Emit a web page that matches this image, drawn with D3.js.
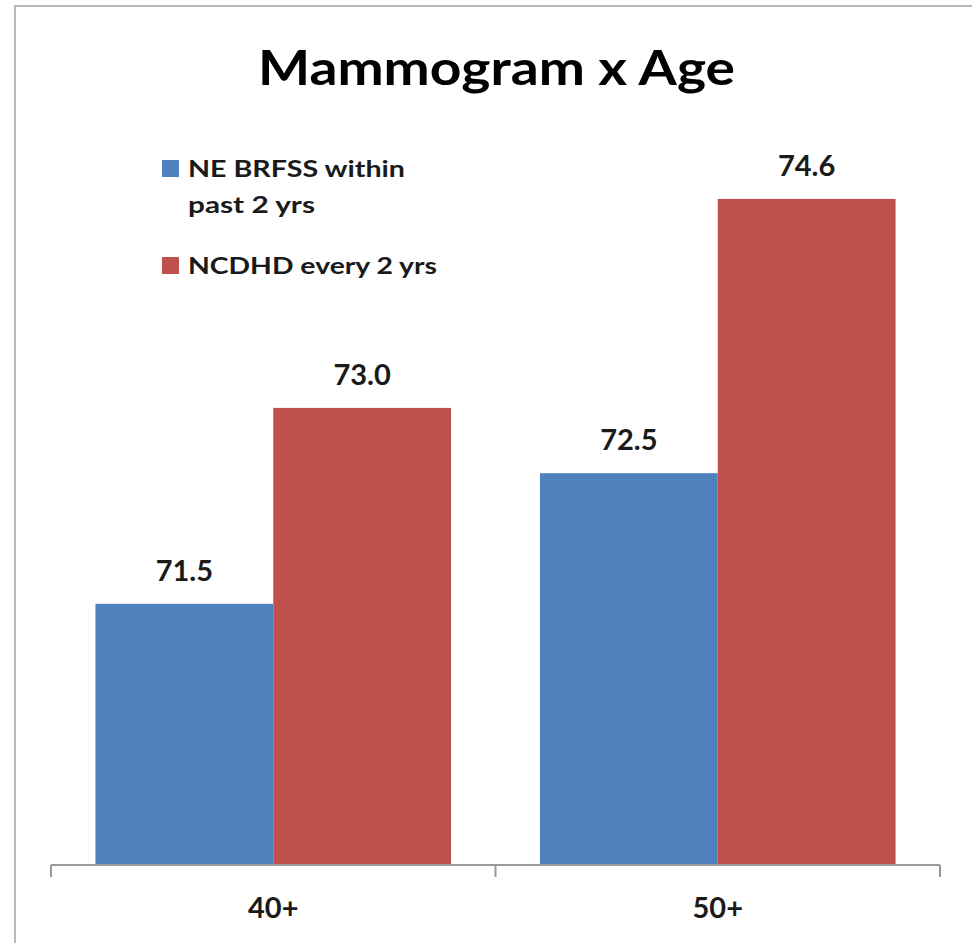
<!DOCTYPE html>
<html>
<head>
<meta charset="utf-8">
<script src="https://cdn.jsdelivr.net/npm/d3@7"></script>
<style>
  body { margin: 0; background: #fff; }
  svg { display: block; }
</style>
</head>
<body>
<div id="myChart"></div>
<script>
// data
var ageGroups = ["40+", "50+"];
var seriesNames = ["NE BRFSS within past 2 yrs", "NCDHD every 2 yrs"];
var brfssValues = [71.5, 72.5];
var ncdhdValues = [73.0, 74.6];
var legendLines = [["NE BRFSS within", "past 2 yrs"], ["NCDHD every 2 yrs"]];
var colors = ["#4F81BD", "#C0504D"];

var w = 972, h = 943;
var baseY = 865;
var fontFam = "Lato, 'Open Sans', sans-serif";

var svg = d3.select("#myChart").append("svg")
  .attr("width", w)
  .attr("height", h);

// chart border
svg.append("rect")
  .attr("x", 15).attr("y", 6)
  .attr("width", w).attr("height", h)
  .attr("fill", "none")
  .attr("stroke", "#b8b8b8")
  .attr("stroke-width", 2);

// title
svg.append("text")
  .attr("x", 258).attr("y", 85)
  .attr("textLength", 477)
  .attr("lengthAdjust", "spacingAndGlyphs")
  .attr("font-family", fontFam)
  .attr("font-weight", "bold")
  .attr("font-size", "47px")
  .attr("fill", "#000")
  .text("Mammogram x Age");

// scales
var x0 = d3.scaleBand()
  .domain(ageGroups)
  .range([51, 940])
  .padding(0);

var x1 = d3.scaleBand()
  .domain(seriesNames)
  .range([x0.bandwidth() * 0.1, x0.bandwidth() * 0.9])
  .padding(0);

var y = d3.scaleLinear()
  .domain([69.5, 75])
  .range([baseY, baseY - 5.5 * 130.6]);

var rows = ageGroups.map(function(g, i) {
  return { group: g, values: [brfssValues[i], ncdhdValues[i]] };
});

// bars
var groups = svg.selectAll("g.grp")
  .data(rows)
  .enter()
  .append("g")
  .attr("class", "grp")
  .attr("transform", function(d) { return "translate(" + x0(d.group) + ",0)"; });

groups.selectAll("rect")
  .data(function(d) {
    return d.values.map(function(v, j) { return { s: seriesNames[j], v: v, c: colors[j] }; });
  })
  .enter()
  .append("rect")
  .attr("x", function(d) { return x1(d.s); })
  .attr("y", function(d) { return y(d.v); })
  .attr("width", x1.bandwidth())
  .attr("height", function(d) { return baseY - y(d.v); })
  .attr("fill", function(d) { return d.c; });

// value labels
groups.selectAll("text.val")
  .data(function(d) {
    return d.values.map(function(v, j) { return { s: seriesNames[j], v: v }; });
  })
  .enter()
  .append("text")
  .attr("class", "val")
  .attr("x", function(d) { return x1(d.s) + x1.bandwidth() / 2; })
  .attr("y", function(d) { return y(d.v) - 23; })
  .attr("text-anchor", "middle")
  .attr("font-family", fontFam)
  .attr("font-weight", "bold")
  .attr("font-size", "29px")
  .attr("fill", "#1a1a1a")
  .text(function(d) { return d3.format(".1f")(d.v); });

// x axis
var xAxis = d3.axisBottom(x0).tickSize(0).tickPadding(32);
var axisG = svg.append("g")
  .attr("class", "axis")
  .attr("transform", "translate(0," + baseY + ")")
  .call(xAxis);

axisG.select(".domain").remove();
axisG.selectAll("text")
  .attr("font-family", fontFam)
  .attr("font-weight", "bold")
  .attr("font-size", "29px")
  .attr("fill", "#1a1a1a");

// axis line + tick marks at band edges
axisG.append("line")
  .attr("x1", x0.range()[0]).attr("x2", x0.range()[1])
  .attr("y1", 0).attr("y2", 0)
  .attr("stroke", "#999").attr("stroke-width", 2);

var edges = ageGroups.map(function(g) { return x0(g); }).concat([x0.range()[1]]);
axisG.selectAll("line.edge")
  .data(edges)
  .enter()
  .append("line")
  .attr("class", "edge")
  .attr("x1", function(d) { return d; })
  .attr("x2", function(d) { return d; })
  .attr("y1", 0).attr("y2", 12)
  .attr("stroke", "#999").attr("stroke-width", 2);

// legend
var legendY = [160, 257];
var legendWidths = [[217, 127], [249]];
var leg = svg.selectAll("g.leg")
  .data(seriesNames)
  .enter()
  .append("g")
  .attr("class", "leg")
  .attr("transform", function(d, i) { return "translate(162," + legendY[i] + ")"; });

leg.append("rect")
  .attr("width", 17).attr("height", 17)
  .attr("fill", function(d, i) { return colors[i]; });

leg.each(function(d, i) {
  var g = d3.select(this);
  legendLines[i].forEach(function(line, k) {
    g.append("text")
      .attr("x", 26)
      .attr("y", 17 + k * 36)
      .attr("textLength", legendWidths[i][k])
      .attr("lengthAdjust", "spacingAndGlyphs")
      .attr("font-family", fontFam)
      .attr("font-weight", "bold")
      .attr("font-size", "22px")
      .attr("fill", "#1a1a1a")
      .text(line);
  });
});
</script>
</body>
</html>
